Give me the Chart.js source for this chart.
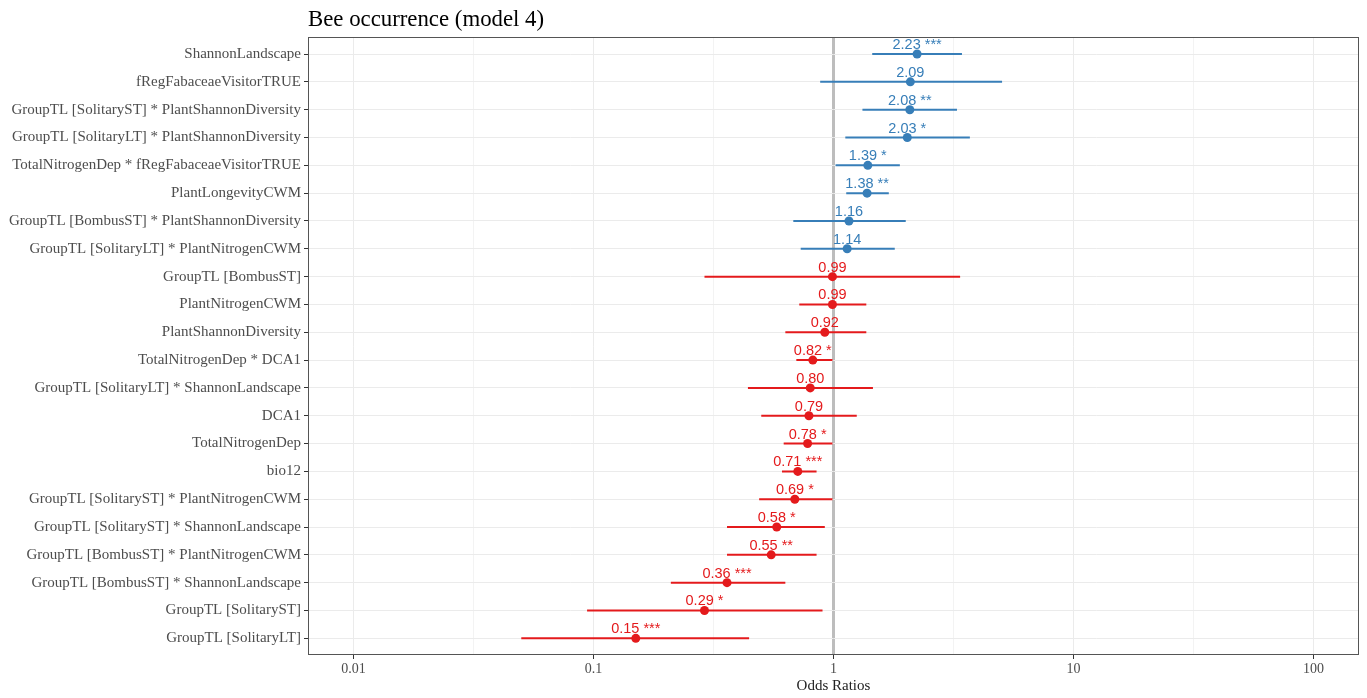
<!DOCTYPE html>
<html>
<head>
<meta charset="utf-8">
<script src="https://cdn.jsdelivr.net/npm/chart.js@4.4.1/dist/chart.umd.min.js"></script>
<style>
  html, body { margin: 0; padding: 0; background: #ffffff; }
  #wrap { width: 1367px; height: 698px; }
</style>
</head>
<body>
<div id="wrap"><canvas id="c" width="1367" height="698"></canvas></div>
<script>
// Model terms, top to bottom
const terms = [
  'ShannonLandscape',
  'fRegFabaceaeVisitorTRUE',
  'GroupTL [SolitaryST] * PlantShannonDiversity',
  'GroupTL [SolitaryLT] * PlantShannonDiversity',
  'TotalNitrogenDep * fRegFabaceaeVisitorTRUE',
  'PlantLongevityCWM',
  'GroupTL [BombusST] * PlantShannonDiversity',
  'GroupTL [SolitaryLT] * PlantNitrogenCWM',
  'GroupTL [BombusST]',
  'PlantNitrogenCWM',
  'PlantShannonDiversity',
  'TotalNitrogenDep * DCA1',
  'GroupTL [SolitaryLT] * ShannonLandscape',
  'DCA1',
  'TotalNitrogenDep',
  'bio12',
  'GroupTL [SolitaryST] * PlantNitrogenCWM',
  'GroupTL [SolitaryST] * ShannonLandscape',
  'GroupTL [BombusST] * PlantNitrogenCWM',
  'GroupTL [BombusST] * ShannonLandscape',
  'GroupTL [SolitaryST]',
  'GroupTL [SolitaryLT]'
];

// Odds ratios with 95% confidence limits
const oddsRatios = [2.23, 2.09, 2.08, 2.03, 1.39, 1.38, 1.16, 1.14, 0.99, 0.99, 0.92,
                    0.82, 0.80, 0.79, 0.78, 0.71, 0.69, 0.58, 0.55, 0.36, 0.29, 0.15];
const ciLow  = [1.45, 0.88, 1.32, 1.12, 1.02, 1.13, 0.68, 0.73, 0.29, 0.72, 0.63,
                0.70, 0.44, 0.50, 0.62, 0.61, 0.49, 0.36, 0.36, 0.21, 0.094, 0.050];
const ciHigh = [3.43, 5.04, 3.27, 3.70, 1.89, 1.70, 2.00, 1.80, 3.37, 1.37, 1.37,
                0.99, 1.46, 1.25, 0.99, 0.85, 0.99, 0.92, 0.85, 0.63, 0.90, 0.445];
const stars  = ['***', '', '**', '*', '*', '**', '', '', '', '', '',
                '*', '', '', '*', '***', '*', '*', '**', '***', '*', '***'];

// Axis breaks
const xTickValues = [0.01, 0.1, 1, 10, 100];
const xTickLabels = ['0.01', '0.1', '1', '10', '100'];
const xMinorValues = [0.0316228, 0.316228, 3.16228, 31.6228];

const BLUE = '#377eb8';
const RED = '#e41a1c';
const colorFor = v => (v > 1 ? BLUE : RED);

const serif = '"Liberation Serif", "Times New Roman", serif';
const sans = '"Liberation Sans", Arial, sans-serif';

const isMajor = v => xTickValues.some(t => Math.abs(t - v) / t < 1e-6);

// Confidence interval whiskers, one segment per term
const ciDatasets = terms.map((t, i) => ({
  type: 'scatter',
  showLine: true,
  data: [{ x: ciLow[i], y: i }, { x: ciHigh[i], y: i }],
  borderColor: colorFor(oddsRatios[i]),
  borderWidth: 2,
  pointRadius: 0,
  fill: false,
  order: 2
}));

const pointDataset = {
  type: 'scatter',
  data: oddsRatios.map((v, i) => ({ x: v, y: i })),
  pointBackgroundColor: oddsRatios.map(colorFor),
  pointBorderWidth: 0,
  pointRadius: 4.5,
  order: 1
};

// Value labels drawn above each estimate
const valueLabels = {
  id: 'valueLabels',
  afterDatasetsDraw(chart) {
    const { ctx, scales: { x, y } } = chart;
    ctx.save();
    ctx.font = '14.5px ' + sans;
    ctx.textAlign = 'center';
    ctx.textBaseline = 'alphabetic';
    oddsRatios.forEach((v, i) => {
      const txt = v.toFixed(2) + (stars[i] ? ' ' + stars[i] : '');
      ctx.fillStyle = colorFor(v);
      ctx.fillText(txt, x.getPixelForValue(v), y.getPixelForValue(i) - 5);
    });
    ctx.restore();
  }
};

// Panel frame
const panelBorder = {
  id: 'panelBorder',
  afterDraw(chart) {
    const a = chart.chartArea;
    const ctx = chart.ctx;
    ctx.save();
    ctx.strokeStyle = '#555555';
    ctx.lineWidth = 1;
    ctx.strokeRect(Math.round(a.left) + 0.5, Math.round(a.top) + 0.5,
                   Math.round(a.right - a.left) - 1, Math.round(a.bottom - a.top) - 1);
    ctx.restore();
  }
};

new Chart(document.getElementById('c'), {
  type: 'scatter',
  data: { datasets: [...ciDatasets, pointDataset] },
  options: {
    responsive: false,
    animation: false,
    events: [],
    devicePixelRatio: 1,
    layout: { padding: { left: 0, right: 8, top: 0, bottom: 0 } },
    plugins: {
      legend: { display: false },
      tooltip: { enabled: false },
      title: {
        display: true,
        text: 'Bee occurrence (model 4)',
        align: 'start',
        fullSize: false,
        color: '#000000',
        font: { family: serif, size: 22.8, weight: 'normal' },
        padding: { top: 6, bottom: 4 }
      }
    },
    scales: {
      x: {
        type: 'logarithmic',
        position: 'bottom',
        min: 0.00646,
        max: 154.8,
        afterBuildTicks: s => {
          s.ticks = [...xTickValues, ...xMinorValues].sort((a, b) => a - b).map(v => ({ value: v }));
        },
        afterFit: s => { s.height = 43; },
        border: { display: false },
        grid: {
          color: c => (c.tick && c.tick.value === 1) ? '#bdbdbd' : '#ebebeb',
          lineWidth: c => {
            if (!c.tick) return 1;
            if (c.tick.value === 1) return 3;
            return isMajor(c.tick.value) ? 1 : 0.6;
          },
          tickColor: c => (c.tick && isMajor(c.tick.value)) ? '#333333' : 'rgba(0,0,0,0)',
          tickWidth: 1,
          tickLength: 4,
          drawTicks: true
        },
        ticks: {
          autoSkip: false,
          maxRotation: 0,
          minRotation: 0,
          padding: 2,
          color: '#4d4d4d',
          font: { family: serif, size: 14 },
          callback: v => {
            const k = xTickValues.findIndex(t => Math.abs(t - v) / t < 1e-6);
            return k >= 0 ? xTickLabels[k] : '';
          }
        },
        title: {
          display: true,
          text: 'Odds Ratios',
          color: '#222222',
          font: { family: serif, size: 15 },
          padding: { top: 0, bottom: 3 }
        }
      },
      y: {
        type: 'linear',
        reverse: true,
        min: -0.6,
        max: terms.length - 0.4,
        afterBuildTicks: s => { s.ticks = terms.map((_, i) => ({ value: i })); },
        afterFit: s => { s.width = 308; },
        border: { display: false },
        grid: {
          color: '#ebebeb',
          lineWidth: 1,
          tickColor: '#333333',
          tickLength: 4,
          drawTicks: true
        },
        ticks: {
          autoSkip: false,
          padding: 3,
          color: '#4d4d4d',
          font: { family: serif, size: 15 },
          callback: v => (terms[v] !== undefined ? terms[v] : '')
        }
      }
    }
  },
  plugins: [valueLabels, panelBorder]
});
</script>
</body>
</html>
